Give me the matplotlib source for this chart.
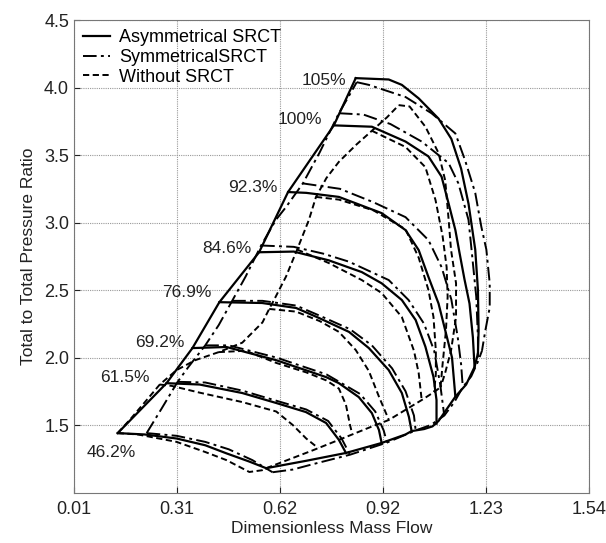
import matplotlib.pyplot as plt
import numpy as np

plt.rcParams['font.family'] = ['Liberation Sans', 'DejaVu Sans']

speed_labels = ['46.2%', '61.5%', '69.2%', '76.9%', '84.6%', '92.3%', '100%', '105%']
label_x = [0.12, 0.235, 0.338, 0.418, 0.537, 0.614, 0.747, 0.82]
label_y = [1.30, 1.855, 2.115, 2.48, 2.81, 3.256, 3.76, 4.056]

xticks = [0.01, 0.316, 0.622, 0.928, 1.234, 1.54]
xtick_labels = ['0.01', '0.31', '0.62', '0.92', '1.23', '1.54']
yticks = [1.5, 2.0, 2.5, 3.0, 3.5, 4.0, 4.5]

# Asymmetrical SRCT (solid)
asym_46 = [(0.14, 1.44), (0.22, 1.43), (0.315, 1.40), (0.40, 1.35), (0.463, 1.29), (0.53, 1.23), (0.581, 1.18)]
asym_61 = [(0.285, 1.81), (0.383, 1.80), (0.51, 1.737), (0.611, 1.663), (0.699, 1.596), (0.759, 1.515),
           (0.797, 1.39), (0.818, 1.293)]
asym_69 = [(0.362, 2.07), (0.463, 2.078), (0.611, 1.98), (0.759, 1.855), (0.797, 1.81), (0.856, 1.707),
           (0.895, 1.588), (0.916, 1.463), (0.924, 1.367)]
asym_76 = [(0.442, 2.41), (0.569, 2.404), (0.67, 2.367), (0.738, 2.293), (0.827, 2.19), (0.886, 2.07),
           (0.945, 1.907), (0.984, 1.737), (1.005, 1.56), (1.013, 1.455)]
asym_84 = [(0.56, 2.78), (0.663, 2.785), (0.767, 2.72), (0.865, 2.633), (0.924, 2.55), (0.984, 2.426),
           (1.025, 2.278), (1.054, 2.08), (1.078, 1.856), (1.087, 1.685), (1.087, 1.51)]
asym_92 = [(0.646, 3.226), (0.70, 3.22), (0.797, 3.19), (0.924, 3.07), (0.995, 2.944), (1.034, 2.796),
           (1.063, 2.597), (1.093, 2.40), (1.113, 2.2), (1.133, 2.0), (1.143, 1.71)]
asym_100 = [(0.782, 3.72), (0.895, 3.71), (0.995, 3.60), (1.063, 3.49), (1.102, 3.34), (1.123, 3.14),
            (1.143, 2.944), (1.155, 2.78), (1.17, 2.58), (1.185, 2.4), (1.195, 2.15), (1.20, 1.93)]
asym_105 = [(0.847, 4.07), (0.945, 4.06), (0.984, 4.02), (1.034, 3.92), (1.093, 3.77), (1.131, 3.62),
            (1.16, 3.40), (1.182, 3.14), (1.202, 2.80), (1.21, 2.5), (1.212, 2.2), (1.21, 2.03)]
asym_choke = [(0.581, 1.18), (0.70, 1.235), (0.818, 1.293), (0.924, 1.367), (0.995, 1.43), (1.013, 1.455),
              (1.05, 1.47), (1.075, 1.49), (1.093, 1.53), (1.118, 1.62), (1.143, 1.71), (1.175, 1.80),
              (1.20, 1.93), (1.21, 2.03)]

# Symmetrical SRCT (dash-dot)
sym_46 = [(0.226, 1.44), (0.315, 1.42), (0.40, 1.375), (0.47, 1.32), (0.54, 1.24), (0.60, 1.15)]
sym_61 = [(0.318, 1.82), (0.40, 1.815), (0.51, 1.755), (0.611, 1.68), (0.70, 1.615), (0.765, 1.53),
          (0.805, 1.40), (0.83, 1.28)]
sym_69 = [(0.40, 2.09), (0.47, 2.09), (0.611, 2.00), (0.76, 1.875), (0.86, 1.73), (0.905, 1.60),
          (0.93, 1.46), (0.94, 1.37)]
sym_76 = [(0.48, 2.42), (0.57, 2.42), (0.67, 2.385), (0.74, 2.31), (0.83, 2.21), (0.895, 2.09),
          (0.955, 1.92), (0.995, 1.75), (1.02, 1.57), (1.025, 1.46)]
sym_84 = [(0.566, 2.83), (0.663, 2.82), (0.75, 2.77), (0.827, 2.71), (0.945, 2.574), (1.004, 2.426),
          (1.05, 2.25), (1.08, 2.05), (1.098, 1.80), (1.11, 1.57)]
sym_92 = [(0.69, 3.29), (0.80, 3.25), (0.90, 3.15), (0.995, 3.04), (1.063, 2.87), (1.102, 2.67),
          (1.131, 2.43), (1.15, 2.15), (1.16, 1.95), (1.165, 1.78)]
sym_100 = [(0.797, 3.81), (0.87, 3.80), (0.95, 3.73), (1.043, 3.60), (1.123, 3.44), (1.152, 3.29),
           (1.182, 3.02), (1.191, 2.80), (1.205, 2.45), (1.21, 2.15), (1.21, 1.97)]
sym_105 = [(0.85, 4.04), (0.886, 4.02), (0.995, 3.93), (1.072, 3.81), (1.143, 3.66), (1.172, 3.46),
           (1.202, 3.22), (1.22, 2.97), (1.235, 2.8), (1.245, 2.55), (1.245, 2.37), (1.232, 2.2), (1.222, 2.05)]
sym_surge = [(0.226, 1.44), (0.27, 1.62), (0.318, 1.82), (0.35, 1.93), (0.40, 2.09), (0.44, 2.24),
             (0.48, 2.42), (0.52, 2.60), (0.566, 2.83), (0.61, 3.02), (0.64, 3.115), (0.69, 3.29),
             (0.74, 3.52), (0.797, 3.81), (0.825, 3.93), (0.85, 4.04)]
sym_choke = [(0.60, 1.15), (0.66, 1.17), (0.72, 1.21), (0.83, 1.28), (0.94, 1.37), (1.025, 1.46),
             (1.07, 1.50), (1.11, 1.57), (1.14, 1.67), (1.165, 1.78), (1.19, 1.86), (1.21, 1.97), (1.222, 2.05)]

# Without SRCT (dashed)
none_46 = [(0.14, 1.44), (0.20, 1.43), (0.315, 1.375), (0.40, 1.30), (0.463, 1.24), (0.531, 1.152),
           (0.569, 1.165), (0.581, 1.18)]
none_61 = [(0.265, 1.80), (0.30, 1.79), (0.383, 1.74), (0.51, 1.67), (0.611, 1.60), (0.66, 1.50),
           (0.70, 1.40), (0.735, 1.33)]
none_69 = [(0.44, 2.04), (0.52, 2.05), (0.611, 1.96), (0.70, 1.89), (0.76, 1.83), (0.797, 1.77),
           (0.818, 1.65), (0.83, 1.50), (0.836, 1.44)]
none_76 = [(0.59, 2.36), (0.67, 2.34), (0.74, 2.27), (0.797, 2.19), (0.847, 2.056), (0.886, 1.90),
           (0.916, 1.71), (0.945, 1.54)]
none_84 = [(0.673, 2.80), (0.767, 2.70), (0.865, 2.574), (0.924, 2.478), (0.984, 2.30), (1.02, 2.05),
           (1.034, 1.885), (1.043, 1.685)]
none_92 = [(0.729, 3.19), (0.797, 3.17), (0.90, 3.09), (0.995, 2.95), (1.034, 2.74), (1.063, 2.5),
           (1.078, 2.3), (1.085, 2.05), (1.085, 1.88), (1.08, 1.745)]
none_100 = [(0.895, 3.68), (0.995, 3.56), (1.054, 3.41), (1.084, 3.167), (1.105, 2.9), (1.117, 2.67),
            (1.12, 2.45), (1.115, 2.2), (1.105, 1.95), (1.099, 1.78)]
none_105 = [(0.975, 3.87), (1.007, 3.86), (1.054, 3.71), (1.093, 3.515), (1.113, 3.31), (1.123, 3.02),
            (1.13, 2.8), (1.145, 2.55), (1.145, 2.3), (1.13, 2.05), (1.112, 1.88), (1.099, 1.78)]
none_surge = [(0.14, 1.44), (0.18, 1.55), (0.226, 1.685), (0.265, 1.80), (0.315, 1.907), (0.37, 1.98),
              (0.44, 2.04), (0.51, 2.11), (0.57, 2.26), (0.59, 2.36), (0.605, 2.43), (0.64, 2.60),
              (0.673, 2.80), (0.708, 3.02), (0.729, 3.19), (0.76, 3.33), (0.797, 3.45), (0.85, 3.58),
              (0.895, 3.68), (0.94, 3.78), (0.975, 3.87)]
none_choke = [(0.581, 1.18), (0.717, 1.31), (0.797, 1.39), (0.886, 1.48), (0.945, 1.537),
              (1.043, 1.685), (1.08, 1.745), (1.099, 1.78)]

asym_lines = [asym_46, asym_61, asym_69, asym_76, asym_84, asym_92, asym_100, asym_105, asym_choke]
sym_lines = [sym_46, sym_61, sym_69, sym_76, sym_84, sym_92, sym_100, sym_105, sym_surge, sym_choke]
none_lines = [none_46, none_61, none_69, none_76, none_84, none_92, none_100, none_105, none_surge, none_choke]
# surge line of the asymmetrical map runs through the starts of its speed lines
asym_surge = [line[0] for line in asym_lines[:8]]
asym_lines.append(asym_surge)

fig = plt.figure(figsize=(6.06, 5.43), dpi=100)
ax = fig.add_axes([0.122, 0.093, 0.850, 0.870])

dashdot = (0, (7, 2.2, 1.5, 2.2))
dashed = (0, (3.2, 1.8))

for i, line in enumerate(none_lines):
    pts = np.array(line)
    ax.plot(pts[:, 0], pts[:, 1], color='black', lw=1.4, linestyle=dashed,
            label='Without SRCT' if i == 0 else None)
for i, line in enumerate(sym_lines):
    pts = np.array(line)
    ax.plot(pts[:, 0], pts[:, 1], color='black', lw=1.4, linestyle=dashdot,
            label='SymmetricalSRCT' if i == 0 else None)
for i, line in enumerate(asym_lines):
    pts = np.array(line)
    ax.plot(pts[:, 0], pts[:, 1], color='black', lw=1.6, linestyle='-',
            label='Asymmetrical SRCT' if i == 0 else None)

for lab, lx, ly in zip(speed_labels, label_x, label_y):
    ha = 'center' if lab == '46.2%' else 'right'
    ax.text(lx, ly, lab, fontsize=12.5, ha=ha, va='center', color='#222222')

ax.set_xlim(0.01, 1.54)
ax.set_ylim(1.0, 4.5)
ax.set_xticks(xticks)
ax.set_xticklabels(xtick_labels)
ax.set_yticks(yticks)
ax.tick_params(direction='in', labelsize=13, colors='#222222', length=4)
ax.tick_params(axis='x', pad=6)
for s in ax.spines.values():
    s.set_color('#777777')
ax.grid(True, linestyle=(0, (1, 1)), color='#999999', linewidth=0.8)
ax.set_axisbelow(True)

ax.set_xlabel('Dimensionless Mass Flow', fontsize=12.5, color='#222222', labelpad=2)
ax.set_ylabel('Total to Total Pressure Ratio', fontsize=12.5, color='#222222', labelpad=6)

handles, labels = ax.get_legend_handles_labels()
order = [labels.index('Asymmetrical SRCT'), labels.index('SymmetricalSRCT'), labels.index('Without SRCT')]
ax.legend([handles[i] for i in order], [labels[i] for i in order], loc='upper left', frameon=False,
          fontsize=13, handlelength=1.5, labelspacing=0.15, borderaxespad=0.1, handletextpad=0.5)

fig.savefig('out.png', dpi=100)
